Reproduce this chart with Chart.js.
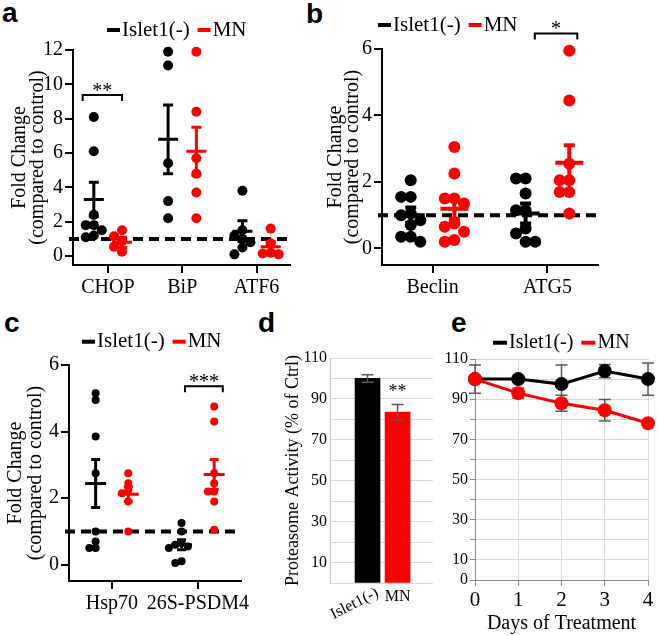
<!DOCTYPE html>
<html>
<head>
<meta charset="utf-8">
<title>Stress and proteasome markers</title>
<script src="https://cdn.jsdelivr.net/npm/chart.js@4.4.1/dist/chart.umd.min.js"></script>
<style>
  body { margin: 0; background: #fff; }
  #fig { position: relative; width: 660px; height: 636px; overflow: hidden; }
  #fig canvas { position: absolute; }
  .lab { position: absolute; font: bold 28px "Liberation Sans", Arial, sans-serif; line-height: 28px; }
</style>
</head>
<body>
<div id="fig">
  <div class="lab" style="left:2px;top:-1px">a</div>
  <div class="lab" style="left:306px;top:0px">b</div>
  <div class="lab" style="left:4px;top:309px">c</div>
  <div class="lab" style="left:258px;top:309px">d</div>
  <div class="lab" style="left:451px;top:309px">e</div>
</div>
<script>
const SERIF = '"Liberation Serif", "Times New Roman", serif';
const RED = '#ff0000';

// a - ER stress markers
const aCats = ['CHOP', 'BiP', 'ATF6'];
const aIslet = [[8.1, 6.1, 2.4, 1.8, 1.8, 1.5, 1.2, 1.1], [11.9, 11.1, 5.4, 3.2, 2.2], [3.8, 1.5, 1.2, 1.0, 0.8, 0.5, 0.1]];
const aIsletMean = [3.3, 6.8, 1.45];
const aIsletSem = [1.0, 2.0, 0.6];
const aMN = [[1.5, 1.15, 0.85, 0.55, 0.25], [11.9, 8.4, 5.7, 4.8, 3.7, 2.2], [1.6, 0.75, 0.2, 0.15, 0.1]];
const aMNMean = [0.8, 6.1, 0.55];
const aMNSem = [0.3, 1.4, 0.3];

// b - autophagy markers
const bCats = ['Beclin', 'ATG5'];
const bIslet = [[2.05, 1.55, 1.55, 1.05, 1.0, 0.85, 0.7, 0.35, 0.35, 0.2], [2.1, 2.1, 1.65, 1.15, 1.15, 0.6, 0.45, 0.2, 0.2]];
const bIsletMean = [1.0, 1.05];
const bIsletSem = [0.23, 0.3];
const bMN = [[3.05, 2.25, 1.5, 1.5, 1.35, 0.75, 0.65, 0.5, 0.25, 0.2], [5.95, 4.45, 2.55, 2.05, 2.05, 1.7, 1.7, 1.05]];
const bMNMean = [1.19, 2.58];
const bMNSem = [0.3, 0.52];

// c - chaperone / proteasome subunit
const cCats = ['Hsp70', '26S-PSDM4'];
const cIslet = [[5.15, 4.95, 3.85, 2.75, 1.0, 0.7, 0.5, 0.5], [1.25, 1.0, 0.65, 0.6, 0.55, 0.5, 0.1, 0.05]];
const cIsletMean = [2.44, 0.6];
const cIsletSem = [0.72, 0.15];
const cMN = [[2.75, 2.45, 2.25, 2.15, 1.9, 1.0], [4.75, 4.3, 2.75, 2.45, 2.2, 2.2, 1.9, 1.05]];
const cMNMean = [2.12, 2.71];
const cMNSem = [0.22, 0.45];

// d - proteasome activity
const dCats = ['Islet1(-)', 'MN'];
const dValues = [100, 83.5];
const dErr = [1.8, 3.8];

// e - time course
const eDays = [0, 1, 2, 3, 4];
const eIslet = [100, 100, 97.5, 104, 100];
const eIsletErr = [7, 1.5, 9.5, 3.3, 8];
const eMN = [100, 93, 88, 84.5, 78];
const eMNErr = [0, 2.5, 4, 5.3, 0];

Chart.defaults.font.family = SERIF;
Chart.defaults.color = '#000';

function makeCanvas(box) {
  const c = document.createElement('canvas');
  c.width = box.w;
  c.height = box.h;
  c.style.left = box.left + 'px';
  c.style.top = box.top + 'px';
  c.style.width = box.w + 'px';
  c.style.height = box.h + 'px';
  document.getElementById('fig').appendChild(c);
  return c;
}

// padding + axis sizes so that the chart area lands where the figure has it
function place(box, area) {
  return {
    padding: { left: 0, top: area.top - box.top, right: box.left + box.w - area.right, bottom: 0 },
    yWidth: area.left - box.left,
    xHeight: box.top + box.h - area.bottom
  };
}

// simple beeswarm, points spread sideways when they collide
function swarm(vals, center, pxX, pxY, r) {
  const placed = [];
  const step = 0.8 * r, minD = 1.6 * r;
  vals.slice().sort((p, q) => q - p).forEach(v => {
    const py = v * pxY;
    let off = 0;
    for (let k = 0; k < 30; k++) {
      off = k === 0 ? 0 : Math.ceil(k / 2) * step * (k % 2 ? -1 : 1);
      if (placed.every(q => Math.hypot(q.ox - off, q.py - py) >= minD)) break;
    }
    placed.push({ ox: off, py: py, v: v });
  });
  return placed.map(q => ({ x: center + q.ox / pxX, y: q.v }));
}

function drawErrors(chart) {
  const ctx = chart.ctx, xs = chart.scales.x, ys = chart.scales.y;
  chart.data.datasets.forEach(ds => {
    const e = ds.err;
    if (!e) return;
    ctx.save();
    ctx.strokeStyle = e.color;
    ctx.lineWidth = e.lw;
    e.mean.forEach((m, i) => {
      const x = xs.getPixelForValue(e.pos[i]);
      const y = ys.getPixelForValue(m);
      ctx.beginPath();
      if (e.meanW) {
        ctx.moveTo(x - e.meanW / 2, y);
        ctx.lineTo(x + e.meanW / 2, y);
      }
      if (e.sem[i] > 0) {
        const yt = ys.getPixelForValue(m + e.sem[i]);
        const yb = ys.getPixelForValue(m - e.sem[i]);
        ctx.moveTo(x, yt); ctx.lineTo(x, yb);
        ctx.moveTo(x - e.capW / 2, yt); ctx.lineTo(x + e.capW / 2, yt);
        ctx.moveTo(x - e.capW / 2, yb); ctx.lineTo(x + e.capW / 2, yb);
      }
      ctx.stroke();
    });
    ctx.restore();
  });
}

const extras = {
  id: 'extras',
  beforeDatasetsDraw(chart, args, o) {
    const ctx = chart.ctx, ca = chart.chartArea;
    if (o.refLine != null) {
      const y = chart.scales.y.getPixelForValue(o.refLine);
      ctx.save();
      ctx.strokeStyle = '#000';
      ctx.lineWidth = 4;
      ctx.setLineDash([10, 6]);
      ctx.beginPath();
      ctx.moveTo(ca.left - 4, y);
      ctx.lineTo(ca.right, y);
      ctx.stroke();
      ctx.restore();
    }
    if (o.errUnder) drawErrors(chart);
  },
  afterDatasetsDraw(chart, args, o) {
    const ctx = chart.ctx, xs = chart.scales.x, ys = chart.scales.y;
    if (!o.errUnder) drawErrors(chart);
    ctx.save();
    // significance brackets
    (o.sig || []).forEach(s => {
      const xl = xs.getPixelForValue(s.cat + s.x0), xr = xs.getPixelForValue(s.cat + s.x1);
      const y = ys.getPixelForValue(s.y);
      ctx.strokeStyle = '#000';
      ctx.lineWidth = 2;
      ctx.beginPath();
      ctx.moveTo(xl, y + 6); ctx.lineTo(xl, y); ctx.lineTo(xr, y); ctx.lineTo(xr, y + 6);
      ctx.stroke();
      ctx.fillStyle = '#000';
      ctx.font = '20px ' + SERIF;
      ctx.textAlign = 'center';
      ctx.textBaseline = 'alphabetic';
      ctx.fillText(s.text, (xl + xr) / 2, y + 2);
    });
    // stars over bars
    (o.stars || []).forEach(s => {
      ctx.fillStyle = '#000';
      ctx.font = '18px ' + SERIF;
      ctx.textAlign = 'center';
      ctx.textBaseline = 'alphabetic';
      ctx.fillText(s.text, xs.getPixelForValue(s.cat), ys.getPixelForValue(s.y));
    });
    // legend: short thick line + label
    if (o.legend) {
      const L = o.legend;
      let x = L.x;
      ctx.font = L.size + 'px ' + SERIF;
      ctx.textAlign = 'left';
      ctx.textBaseline = 'middle';
      chart.data.datasets.forEach(ds => {
        ctx.fillStyle = ds.borderColor;
        ctx.fillRect(x, L.y - 2, L.w, 4);
        x += L.w + 2;
        ctx.fillStyle = '#000';
        ctx.fillText(ds.label, x, L.y);
        x += ctx.measureText(ds.label).width + 8;
      });
    }
    // hand placed category labels (one slanted, one flat)
    if (o.xLabels) {
      const X = o.xLabels;
      ctx.font = X.size + 'px ' + SERIF;
      ctx.fillStyle = '#000';
      X.text.forEach((t, i) => {
        const px = xs.getPixelForValue(i);
        ctx.save();
        if (X.rot[i]) {
          ctx.translate(px + 10, X.y - 5);
          ctx.rotate(X.rot[i] * Math.PI / 180);
          ctx.textAlign = 'right';
        } else {
          ctx.translate(px, X.y);
          ctx.textAlign = 'center';
        }
        ctx.textBaseline = 'middle';
        ctx.fillText(t, 0, 0);
        ctx.restore();
      });
    }
    ctx.restore();
  }
};

function axisLines(len) {
  return {
    grid: { drawOnChartArea: false, drawTicks: true, tickLength: len, color: '#000', lineWidth: 2 },
    border: { color: '#000', width: 2 }
  };
}

function dotPlot(p) {
  const pl = place(p.box, p.area);
  const pxX = (p.area.right - p.area.left) / (p.xMax - p.xMin);
  const pxY = (p.area.bottom - p.area.top) / (p.yMax - p.yMin);
  const groups = [
    { label: 'Islet1(-)', color: '#000', vals: p.islet, mean: p.isletMean, sem: p.isletSem, off: -0.19 },
    { label: 'MN', color: RED, vals: p.mn, mean: p.mnMean, sem: p.mnSem, off: 0.19 }
  ];
  const datasets = groups.map(g => ({
    label: g.label,
    data: g.vals.flatMap((vs, i) => swarm(vs, i + g.off, pxX, pxY, p.r)),
    backgroundColor: g.color,
    borderColor: g.color,
    pointRadius: p.r,
    pointBorderWidth: 0,
    clip: false,
    err: { pos: g.mean.map((m, i) => i + g.off), mean: g.mean, sem: g.sem, color: g.color, lw: p.lw, meanW: p.meanW, capW: p.capW }
  }));
  new Chart(makeCanvas(p.box), {
    type: 'scatter',
    data: { datasets: datasets },
    plugins: [extras],
    options: {
      responsive: false,
      animation: false,
      devicePixelRatio: 1,
      events: [],
      layout: { padding: pl.padding },
      plugins: {
        legend: { display: false },
        tooltip: { enabled: false },
        extras: {
          refLine: 1,
          sig: p.sig,
          legend: { x: p.legend.x - p.box.left, y: p.legend.y - p.box.top, w: 13, size: 21 }
        }
      },
      scales: {
        x: Object.assign({
          type: 'linear', min: p.xMin, max: p.xMax,
          afterBuildTicks: s => { s.ticks = p.cats.map((c, i) => ({ value: i })); },
          afterFit: s => { s.height = pl.xHeight; },
          ticks: { font: { size: 20 }, color: '#000', padding: 3, maxRotation: 0, autoSkip: false, callback: v => p.cats[v] }
        }, axisLines(8)),
        y: Object.assign({
          min: p.yMin, max: p.yMax,
          afterBuildTicks: s => { s.ticks = p.yTicks.map(v => ({ value: v })); },
          afterFit: s => { s.width = pl.yWidth; },
          ticks: { font: { size: 20 }, color: '#000', padding: 2, autoSkip: false },
          title: {
            display: true, text: ['Fold Change', '(compared to control)'], color: '#000',
            font: { size: 20, lineHeight: p.titleLH }, padding: { top: p.titlePad, bottom: 0 }
          }
        }, axisLines(8))
      }
    }
  });
}

dotPlot({
  box: { left: 0, top: 0, w: 305, h: 300 },
  area: { left: 73, top: 50, right: 290, bottom: 265 },
  xMin: -0.47, xMax: 2.45, yMin: -0.52, yMax: 12, yTicks: [0, 2, 4, 6, 8, 10, 12],
  cats: aCats, islet: aIslet, isletMean: aIsletMean, isletSem: aIsletSem,
  mn: aMN, mnMean: aMNMean, mnSem: aMNSem,
  r: 5, lw: 3, meanW: 20, capW: 10, titlePad: 11, titleLH: 0.88,
  legend: { x: 107, y: 30 },
  sig: [{ cat: 0, x0: -0.34, x1: 0.19, y: 9.38, text: '**' }]
});

dotPlot({
  box: { left: 300, top: 0, w: 360, h: 300 },
  area: { left: 382, top: 49, right: 598, bottom: 265 },
  xMin: -0.44, xMax: 1.44, yMin: -0.5, yMax: 6, yTicks: [0, 2, 4, 6],
  cats: bCats, islet: bIslet, isletMean: bIsletMean, isletSem: bIsletSem,
  mn: bMN, mnMean: bMNMean, mnSem: bMNSem,
  r: 6, lw: 4, meanW: 28, capW: 11, titlePad: 27, titleLH: 0.85,
  legend: { x: 378, y: 25 },
  sig: [{ cat: 1, x0: -0.11, x1: 0.26, y: 6.47, text: '*' }]
});

dotPlot({
  box: { left: 0, top: 300, w: 255, h: 336 },
  area: { left: 69, top: 365, right: 243, bottom: 581 },
  xMin: -0.5, xMax: 1.5, yMin: -0.49, yMax: 6, yTicks: [0, 2, 4, 6],
  cats: cCats, islet: cIslet, isletMean: cIsletMean, isletSem: cIsletSem,
  mn: cMN, mnMean: cMNMean, mnSem: cMNSem,
  r: 4, lw: 3, meanW: 21, capW: 9, titlePad: 6, titleLH: 1.0,
  legend: { x: 82, y: 341.7 },
  sig: [{ cat: 1, x0: -0.15, x1: 0.29, y: 5.36, text: '***' }]
});

// d - bar chart
(function () {
  const box = { left: 255, top: 300, w: 185, h: 336 };
  const pl = place(box, { left: 330, top: 358, right: 433, bottom: 583 });
  const grid10 = [0, 10, 20, 30, 40, 50, 60, 70, 80, 90, 100, 110];
  new Chart(makeCanvas(box), {
    type: 'bar',
    data: {
      datasets: [{
        label: 'Proteasome Activity',
        data: dValues.map((v, i) => ({ x: i, y: v })),
        backgroundColor: ['#000', RED],
        borderWidth: 0,
        barThickness: 25,
        err: { pos: [0, 1], mean: dValues, sem: dErr, color: '#595959', lw: 1.5, meanW: 0, capW: 12 }
      }]
    },
    plugins: [extras],
    options: {
      responsive: false, animation: false, devicePixelRatio: 1, events: [],
      layout: { padding: pl.padding },
      plugins: {
        legend: { display: false }, tooltip: { enabled: false },
        extras: {
          stars: [{ cat: 1, y: 91, text: '**' }],
          xLabels: { text: dCats, rot: [-27, 0], y: 597 - box.top, size: 16 }
        }
      },
      scales: {
        x: {
          type: 'linear', min: -1.25, max: 2.18, offset: false,
          afterFit: s => { s.height = pl.xHeight; },
          ticks: { display: false },
          grid: { display: false, offset: false },
          border: { display: false }
        },
        y: {
          min: 0, max: 110,
          afterBuildTicks: s => { s.ticks = grid10.map(v => ({ value: v })); },
          afterFit: s => { s.width = pl.yWidth; },
          ticks: { font: { size: 16 }, color: '#000', padding: 3, autoSkip: false, callback: v => (v % 20 === 10 ? v : '') },
          grid: { color: '#d9d9d9', lineWidth: 1, drawTicks: false },
          border: { color: '#bfbfbf', width: 1 },
          title: {
            display: true, text: 'Proteasome Activity (% of Ctrl)', color: '#000',
            font: { size: 18, lineHeight: 1.2 }, padding: { top: 27, bottom: 0 }
          }
        }
      }
    }
  });
})();

// e - time course
(function () {
  const box = { left: 440, top: 300, w: 220, h: 336 };
  const pl = place(box, { left: 475, top: 359, right: 648, bottom: 580 });
  const grid10 = [0, 10, 20, 30, 40, 50, 60, 70, 80, 90, 100, 110];
  const series = [
    { label: 'Islet1(-)', color: '#000', vals: eIslet, err: eIsletErr, order: 1 },
    { label: 'MN', color: RED, vals: eMN, err: eMNErr, order: 0 }
  ];
  new Chart(makeCanvas(box), {
    type: 'line',
    data: {
      datasets: series.map(s => ({
        label: s.label,
        data: eDays.map((d, i) => ({ x: d, y: s.vals[i] })),
        borderColor: s.color,
        backgroundColor: s.color,
        borderWidth: 3,
        pointRadius: 7,
        pointBorderWidth: 0,
        order: s.order,
        clip: false,
        err: { pos: eDays, mean: s.vals, sem: s.err, color: '#595959', lw: 1.5, meanW: 0, capW: 12 }
      }))
    },
    plugins: [extras],
    options: {
      responsive: false, animation: false, devicePixelRatio: 1, events: [],
      layout: { padding: pl.padding },
      plugins: {
        legend: { display: false }, tooltip: { enabled: false },
        extras: { errUnder: true, legend: { x: 493 - box.left, y: 342.7 - box.top, w: 14, size: 20 } }
      },
      scales: {
        x: {
          type: 'linear', min: 0, max: 4,
          afterBuildTicks: s => { s.ticks = eDays.map(v => ({ value: v })); },
          afterFit: s => { s.height = pl.xHeight; },
          ticks: { font: { size: 21 }, color: '#000', padding: 2, maxRotation: 0, autoSkip: false },
          grid: { color: '#d9d9d9', lineWidth: 1, tickLength: 6, tickColor: '#8c8c8c' },
          border: { color: '#8c8c8c', width: 1 },
          title: { display: true, text: 'Days of Treatment', color: '#000', font: { size: 20, lineHeight: 1.2 }, padding: { top: 0, bottom: 0 } }
        },
        y: {
          min: 0, max: 110,
          afterBuildTicks: s => { s.ticks = grid10.map(v => ({ value: v })); },
          afterFit: s => { s.width = pl.yWidth; },
          ticks: { font: { size: 16 }, color: '#000', padding: 2, autoSkip: false, callback: v => (v === 0 || v % 20 === 10 ? v : '') },
          grid: { color: '#d9d9d9', lineWidth: 1, tickLength: 5, tickColor: '#8c8c8c' },
          border: { color: '#8c8c8c', width: 1 }
        }
      }
    }
  });
})();
</script>
</body>
</html>
